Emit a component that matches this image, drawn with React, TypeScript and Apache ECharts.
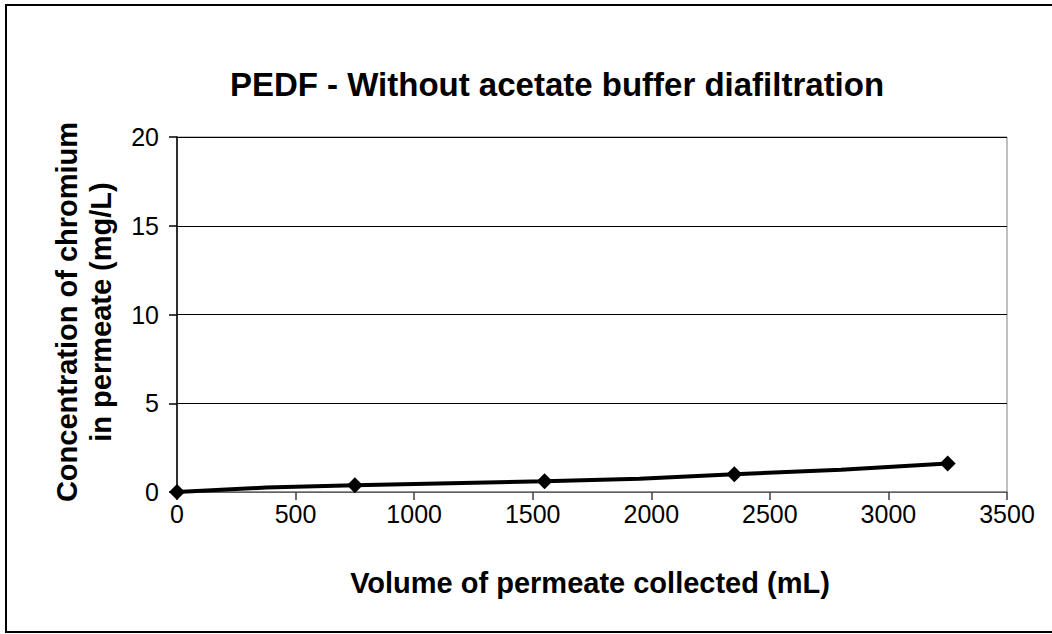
import React, { useEffect, useRef } from "react";
import * as echarts from "echarts";

const titleText = "PEDF - Without acetate buffer diafiltration";
const xAxisTitle = "Volume of permeate collected (mL)";
const yAxisTitle = "Concentration of chromium\nin permeate (mg/L)";

// Volume of permeate collected (mL)
const volumes = [0, 375, 750, 1550, 1950, 2350, 2800, 3250];
// Chromium concentration (mg/L)
const concentrations = [0, 0.25, 0.38, 0.6, 0.75, 1.0, 1.25, 1.6];
// Whether a marker is drawn at the point
const marked = [true, false, true, true, false, true, false, true];

export default function App() {
  const ref = useRef<HTMLDivElement>(null);
  useEffect(() => {
    if (!ref.current) return;
    const chart = echarts.init(ref.current, undefined, { renderer: "svg" });
    const font = "Arial, 'Liberation Sans', sans-serif";
    chart.setOption({
      animation: false,
      backgroundColor: "#ffffff",
      title: {
        text: titleText,
        left: 552,
        textAlign: "center",
        top: 63,
        textStyle: { fontFamily: font, fontSize: 33, fontWeight: "bold", color: "#000" },
      },
      grid: {
        left: 177,
        right: 45,
        top: 137,
        bottom: 142,
        show: true,
        borderColor: "#808080",
        borderWidth: 1,
        backgroundColor: "#fff",
      },
      xAxis: {
        type: "value",
        min: 0,
        max: 3500,
        interval: 500,
        axisLine: { show: true, onZero: false, lineStyle: { color: "#808080", width: 1.5 } },
        axisTick: { show: true, length: 8, lineStyle: { color: "#404040", width: 1.5 } },
        axisLabel: {
          fontFamily: font,
          fontSize: 25,
          color: "#000",
          margin: 9,
          formatter: (v: number) => String(v),
        },
        splitLine: { show: false },
      },
      yAxis: {
        type: "value",
        min: 0,
        max: 20,
        interval: 5,
        axisLine: { show: true, lineStyle: { color: "#000", width: 1.5 } },
        axisTick: { show: true, length: 8, lineStyle: { color: "#000", width: 1.5 } },
        axisLabel: { fontFamily: font, fontSize: 25, color: "#000", margin: 18 },
        splitLine: { show: true, lineStyle: { color: "#000", width: 1 } },
      },
      graphic: [
        {
          type: "rect",
          shape: { x: 6, y: 5, width: 1070, height: 627 },
          style: { fill: "none", stroke: "#000", lineWidth: 2 },
          silent: true,
          z: 100,
        },
        {
          type: "text",
          x: 590,
          y: 583,
          style: {
            text: xAxisTitle,
            fontFamily: font,
            fontSize: 29,
            fontWeight: "bold",
            fill: "#000",
            align: "center",
            verticalAlign: "middle",
          },
        },
        {
          type: "text",
          x: 84,
          y: 312,
          rotation: Math.PI / 2,
          style: {
            text: yAxisTitle,
            fontFamily: font,
            fontSize: 29,
            fontWeight: "bold",
            fill: "#000",
            align: "center",
            verticalAlign: "middle",
            lineHeight: 34,
          },
        },
      ],
      series: [
        {
          type: "line",
          data: volumes.map((v, i) => ({
            value: [v, concentrations[i]],
            symbol: marked[i] ? "diamond" : "none",
            symbolSize: 16,
          })),
          showAllSymbol: true,
          lineStyle: { color: "#000", width: 4 },
          itemStyle: { color: "#000" },
          clip: false,
          z: 10,
        },
      ],
    });
    return () => chart.dispose();
  }, []);
  return (
    <div
      ref={ref}
      style={{ position: "absolute", left: 0, top: 0, width: 1052, height: 634 }}
    />
  );
}
